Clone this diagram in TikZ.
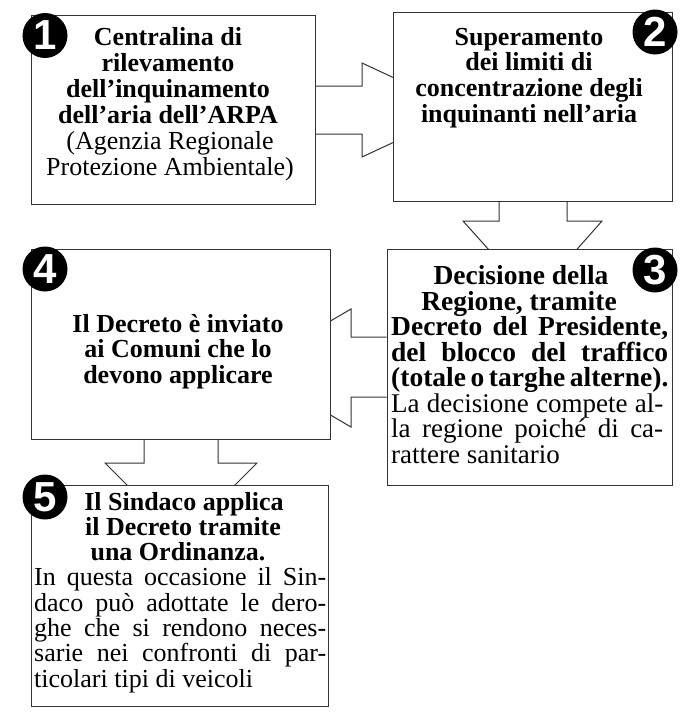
\documentclass[tikz,border=0pt]{standalone}
\usepackage{fontspec}
\setmainfont{Liberation Serif}
\newfontfamily\numfont{Liberation Sans}
\usetikzlibrary{calc}
\pgfdeclarelayer{bg}
\pgfsetlayers{bg,main}
\begin{document}
\begin{tikzpicture}[x=1pt,y=-1pt,
  frame/.style={draw=black!80, line width=1pt, fill=white, inner sep=0pt},
  blk/.style={draw=black!80, line width=1pt, fill=white, line join=miter},
  badge/.style={circle, fill=black, minimum size=45pt, inner sep=0pt, text=white,
    font=\numfont\bfseries\fontsize{42}{42}\selectfont},
  tlb/.style={inner sep=0pt, anchor=base, font=\fontsize{26}{26}\selectfont\bfseries},
  tlr/.style={inner sep=0pt, anchor=base, font=\fontsize{26}{26}\selectfont},
  tlbb/.style={inner sep=0pt, anchor=base, font=\fontsize{27.5}{27.5}\selectfont\bfseries},
  jlb/.style={inner sep=0pt, anchor=base west, font=\fontsize{27.5}{27.5}\selectfont\bfseries},
  jlr/.style={inner sep=0pt, anchor=base west, font=\fontsize{27}{27}\selectfont},
  jlr5/.style={inner sep=0pt, anchor=base west, font=\fontsize{26}{26}\selectfont},
]
\useasboundingbox (0,0) rectangle (691,715);

% boxes
\node[frame, minimum width=284pt, minimum height=189pt] (b1) at (173,109.5) {};
\node[frame, minimum width=279pt, minimum height=189pt] (b2) at (532.5,106.5) {};
\node[frame, minimum width=285pt, minimum height=236pt] (b3) at (529.5,367) {};
\node[frame, minimum width=299pt, minimum height=190pt] (b4) at (180.5,344) {};
\node[frame, minimum width=297pt, minimum height=221pt] (b5) at (179.5,595.5) {};

% block arrows (behind the boxes)
\begin{pgfonlayer}{bg}
\draw[blk] (b1.east |- 0,86) -- (362,86) -- (362,63) -- (463,110)
  -- (362,157) -- (362,134) -- (b1.east |- 0,134);
\draw[blk] (499,0 |- b2.south) -- (499,221) -- (463,221) -- (533,299)
  -- (602,221) -- (567,221) -- (567,0 |- b2.south);
\draw[blk] (b3.west |- 0,337) -- (351,337) -- (351,309) -- (250,368)
  -- (351,427) -- (351,397) -- (b3.west |- 0,397);
\draw[blk] (144,0 |- b4.south) -- (144,463) -- (105,463) -- (181,539)
  -- (257,463) -- (218,463) -- (218,0 |- b4.south);
\end{pgfonlayer}

% badges
\node[badge] (n1) at (45,35.5) {1};
\node[badge] (n2) at (655,32) {2};
\node[badge] (n3) at (655,270) {3};
\node[badge] (n4) at (45,269) {4};
\node[badge] (n5) at (45,497) {5};

% box 1 text
\node[tlb] (t11) at (168,45.5) {Centralina di};
\node[tlb] (t12) at (168,71.5) {rilevamento};
\node[tlb] (t13) at (168,97.5) {dell’inquinamento};
\node[tlb] (t14) at (168,123.5) {dell’aria dell’ARPA};
\node[tlr] (t15) at (170,149.5) {(Agenzia Regionale};
\node[tlr] (t16) at (170,175.5) {Protezione Ambientale)};

% box 2 text
\node[tlb] (t21) at (529,45) {Superamento};
\node[tlb] (t22) at (529,70.8) {dei limiti di};
\node[tlb] (t23) at (529,96.6) {concentrazione degli};
\node[tlb] (t24) at (529,122.4) {inquinanti nell’aria};

% box 3 text
\node[tlbb] (t31) at (521,284.5) {Decisione della};
\node[tlbb] (t32) at (519,310) {Regione, tramite};
\node[jlb] (t33) at (391,335.5) {\makebox[277pt][s]{Decreto del Presidente,}};
\node[jlb] (t34) at (391,361) {\makebox[277pt][s]{del blocco del traffico}};
\node[jlb] (t35) at (391,386.5) {\makebox[277pt][s]{(totale o targhe alterne).}};
\node[jlr] (t36) at (391,412) {\makebox[272pt][s]{La decisione compete al-}};
\node[jlr] (t37) at (391,437.5) {\makebox[272pt][s]{la regione poiché di ca-}};
\node[jlr] (t38) at (391,463) {rattere sanitario};

% box 4 text
\node[tlb] (t41) at (178,332) {Il Decreto è inviato};
\node[tlb] (t42) at (178,357.5) {ai Comuni che lo};
\node[tlb] (t43) at (178,383) {devono applicare};

% box 5 text
\node[tlb] (t51) at (184,510) {Il Sindaco applica};
\node[tlb] (t52) at (183,535.3) {il Decreto tramite};
\node[tlb] (t53) at (178,560.6) {una Ordinanza.};
\node[jlr5] (t54) at (34,585.9) {\makebox[292pt][s]{In questa occasione il Sin-}};
\node[jlr5] (t55) at (34,611.2) {\makebox[292pt][s]{daco può adottate le dero-}};
\node[jlr5] (t56) at (34,636.5) {\makebox[292pt][s]{ghe che si rendono neces-}};
\node[jlr5] (t57) at (34,661.8) {\makebox[292pt][s]{sarie nei confronti di par-}};
\node[jlr5] (t58) at (34,687.1) {ticolari tipi di veicoli};
\end{tikzpicture}
\end{document}
